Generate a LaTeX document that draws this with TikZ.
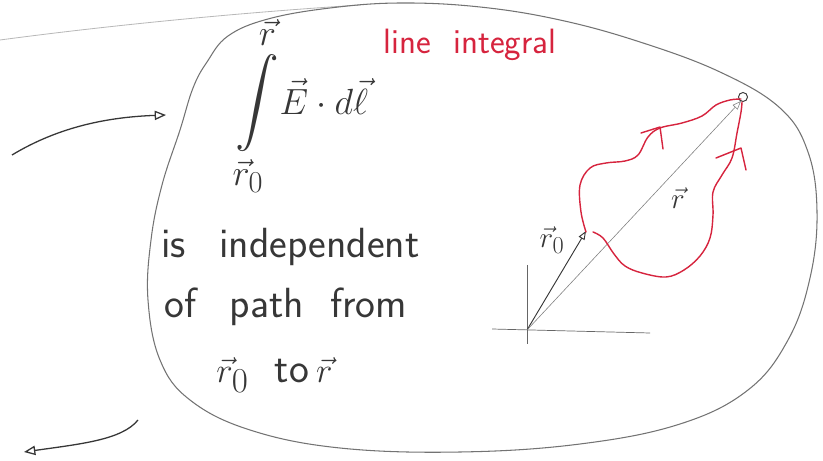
\documentclass[tikz,border=0pt]{standalone}
\usepackage{amsmath}
\usepackage{graphicx}
\usetikzlibrary{arrows.meta}
\definecolor{inkgray}{RGB}{55,55,55}
\definecolor{penred}{RGB}{214,36,62}
\tikzset{
  outline/.style={draw=black!55, line width=0.9pt},
  faint/.style={draw=black!28, line width=0.7pt},
  inkarrow/.style={-{Triangle[open,length=3.4mm,width=2.8mm]}, draw=inkgray, line width=1.1pt},
  vecarrow/.style={-{Triangle[open,length=2.6mm,width=2mm]}, line width=0.8pt},
  axis/.style={draw=black!60, line width=0.6pt},
  redpath/.style={draw=penred, line width=1.2pt, line cap=round, line join=round},
  hand/.style={text=inkgray, inner sep=1pt, font=\sffamily\fontsize{36}{40}\selectfont},
  redhand/.style={text=penred, inner sep=1pt, font=\sffamily\fontsize{30}{36}\selectfont},
  veclabel/.style={text=inkgray, inner sep=1pt, font=\fontsize{24.88}{30}\selectfont}
}
\begin{document}
\begin{tikzpicture}[x=0.03cm, y=-0.03cm]
\useasboundingbox (0,0) rectangle (823,461);
% region outline
\draw[faint] (0,40) .. controls (120,24) and (250,12) .. (360,5);
\draw[outline] plot[smooth cycle, tension=0.65] coordinates {
  (207,62) (228,36) (268,19) (330,8) (400,3) (480,7) (560,20) (640,42)
  (720,72) (780,108) (808,152) (817,212) (810,278) (788,340) (748,390)
  (680,424) (580,444) (460,452) (340,448) (250,430) (190,400) (160,360)
  (148,300) (151,240) (162,185) (180,130) (193,88)};
% texts
\node[veclabel] (integral) at (302,106) {\scalebox{1.5}{$\displaystyle\int\limits_{\vec r_0}^{\vec r}$}\scalebox{1.25}{$\vec E\cdot d\vec\ell$}};
\node[redhand] (lineint) at (470,45) {line\ \ integral};
\node[hand, anchor=base west] (indep) at (160,258) {is\ \ \,independent};
\node[hand, anchor=base west] (ofpath) at (163,318) {of\ \ \,path\ \ from};
\node[hand, anchor=base west] (tor) at (215,382) {\scalebox{1.2}{$\vec r_0$}\ \ to\,\scalebox{1.2}{$\vec r$}};
% side arrows
\coordinate (inA) at (12,155);
\coordinate (inB) at (166,115);
\coordinate (outA) at (138,420);
\coordinate (outB) at (24,452);
\draw[inkarrow] (inA) .. controls (60,126) and (110,117) .. (inB);
\draw[inkarrow] (outA) .. controls (122,440) and (80,444) .. (outB);
% axes and position vectors
\coordinate (O) at (527,330);
\coordinate (R0) at (586,231);
\coordinate (R) at (741,101);
\draw[axis] (527,265) -- (527,344);
\draw[axis] (492,329) -- (650,333);
\draw[vecarrow, draw=inkgray] (O) -- (R0);
\draw[vecarrow, draw=black!50, line width=0.5pt] (O) -- (R);
\draw[inkgray, line width=0.8pt] (743,97) circle (4.5);
\node[veclabel] (r0lab) at (552,240) {$\vec r_0$};
\node[veclabel] (rlab) at (678,198) {$\vec r$};
% two paths from r0 to r
\draw[redpath] plot[smooth, tension=0.6] coordinates {
  (586,232) (581,212) (580,185) (590,168) (606,163) (625,161) (638,155)
  (648,137) (660,128) (682,123) (702,116) (716,105) (730,100) (741,99)};
\draw[redpath] plot[smooth, tension=0.6] coordinates {
  (593,232) (603,238) (614,254) (625,266) (642,273) (666,277) (684,270)
  (700,256) (710,238) (713,215) (713,192) (722,175) (732,158) (737,133)
  (741,112) (742,102)};
\draw[redpath] (641,133) -- (660,127) -- (663,149);
\draw[redpath] (716,158) -- (741,148) -- (746,170);
\end{tikzpicture}
\end{document}
